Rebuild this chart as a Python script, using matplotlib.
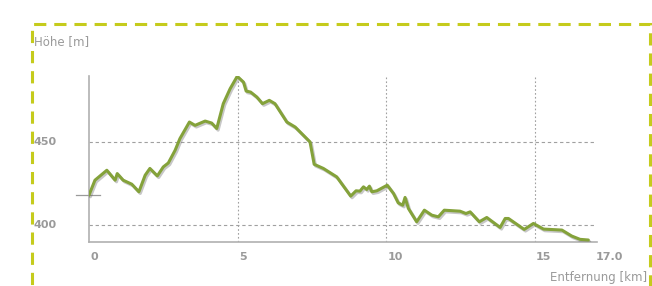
import matplotlib
matplotlib.use('Agg')
import matplotlib.pyplot as plt
import matplotlib.patheffects as pe
from matplotlib.patches import Rectangle

plt.rcParams['font.family'] = ['DejaVu Sans']

# Höhenprofil: Entfernung (km) und Höhe (m)
dist_km = [0.00, 0.20, 0.60, 0.88, 0.95, 1.15, 1.44, 1.68, 1.89, 2.05, 2.30, 2.50,
           2.67, 2.90, 3.06, 3.38, 3.57, 3.91, 4.13, 4.30, 4.52, 4.75, 4.99, 5.20,
           5.29, 5.44, 5.65, 5.84, 6.07, 6.26, 6.66, 6.94, 7.44, 7.58, 7.89, 8.34,
           8.81, 8.99, 9.12, 9.24, 9.35, 9.44, 9.52, 9.69, 10.04, 10.25, 10.41, 10.56,
           10.64, 10.75, 11.03, 11.29, 11.54, 11.76, 11.96, 12.49, 12.69, 12.83, 13.14,
           13.39, 13.84, 14.01, 14.12, 14.65, 14.96, 15.30, 15.92, 16.25, 16.53, 16.81]
elev_m = [418.1, 427.1, 433.1, 427.1, 431.1, 427.1, 424.7, 420.1, 430.1, 434.2, 429.7, 435.1,
          437.5, 445.2, 452.2, 462.2, 460.2, 462.8, 461.6, 458.3, 473.3, 482.3, 489.8, 486.3,
          480.9, 480.3, 477.3, 473.3, 475.3, 473.3, 462.2, 459.2, 450.2, 436.7, 434.2, 429.1,
          417.5, 420.7, 420.5, 423.1, 421.5, 423.5, 420.1, 420.7, 424.1, 419.1, 413.4, 412.0,
          416.7, 410.1, 402.0, 409.0, 406.0, 405.0, 409.0, 408.4, 407.0, 408.0, 402.0,
          404.6, 398.6, 404.0, 404.0, 397.4, 401.0, 397.6, 397.0, 393.4, 391.4, 391.0]

x_ticks = [0, 5, 10, 15, 17.0]
x_tick_labels = ['0', '5', '10', '15', '17.0']
y_ticks = [400, 450]
y_tick_labels = ['400', '450']

grey = '#9a9a9a'
line_green = '#84a23a'
frame_green = '#c5cb1c'

fig = plt.figure(figsize=(6.52, 2.86), dpi=100)
ax = fig.add_axes([89 / 652, 1 - 242 / 286, (594 - 89) / 652, (242 - 76) / 286])
ax.set_xlim(0, 17.0)
ax.set_ylim(389.8, 490)

# gestrichelter Rahmen
fig.patches.append(Rectangle((32 / 652, -0.2), (650 - 32) / 652, 1.2 - 24 / 286,
                             transform=fig.transFigure, fill=False,
                             edgecolor=frame_green, linewidth=2.2,
                             linestyle=(0, (4, 2.6))))

# Gitter
for yv in y_ticks:
    ax.axhline(yv, color='#a0a0a0', linewidth=0.8, linestyle=(0, (3, 2.5)), xmax=1.004, clip_on=False)
for xv in x_ticks[1:-1]:
    ax.axvline(xv, color='#a0a0a0', linewidth=0.8, linestyle=(0, (1.5, 2)))

# Profil mit Schatten
ax.plot(dist_km, elev_m, color=line_green, linewidth=2.2, solid_joinstyle='round',
        solid_capstyle='round', zorder=5,
        path_effects=[pe.SimpleLineShadow(offset=(1.0, -1.2), shadow_color='#606060', alpha=0.35),
                      pe.Normal()])

# Startmarke
ax.plot([dist_km[0] - 0.45, dist_km[0] + 0.37], [elev_m[0], elev_m[0]],
        color=grey, linewidth=0.9, clip_on=False, zorder=3)

for s in ['top', 'right']:
    ax.spines[s].set_visible(False)
for s in ['left', 'bottom']:
    ax.spines[s].set_color('#b0b0b0')
    ax.spines[s].set_linewidth(1.2)
ax.spines['bottom'].set_bounds(0, 17.1)

ax.set_xticks([])
ax.set_yticks([])

for xv, lab in zip(x_ticks, x_tick_labels):
    ax.text(xv + 0.05, -0.06, lab, transform=ax.get_xaxis_transform(), ha='left', va='top',
            fontsize=8, fontweight='bold', color=grey)
for yv, lab in zip(y_ticks, y_tick_labels):
    ax.text(-55 / 505, yv, lab, transform=ax.get_yaxis_transform(), ha='left', va='center',
            fontsize=8, fontweight='bold', color=grey)

fig.text(34 / 652, 1 - 42 / 286, 'Höhe [m]', ha='left', va='center', fontsize=8.5, color=grey)
fig.text(647 / 652, 1 - 278 / 286, 'Entfernung [km]', ha='right', va='center', fontsize=8.5, color=grey)

fig.savefig('out.png', dpi=100)
